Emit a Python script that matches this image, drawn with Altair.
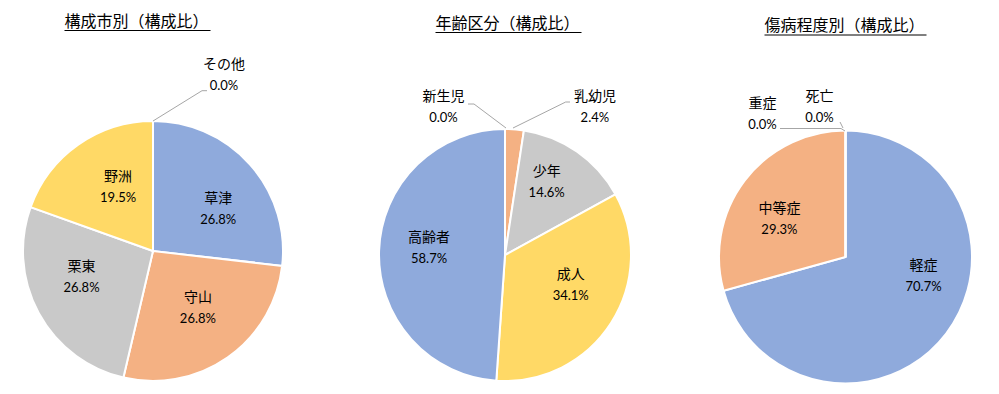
import altair as alt
import pandas as pd

# ---- data ----
city_cats = ["草津", "守山", "栗東", "野洲", "その他"]
city_vals = [26.8, 26.8, 26.8, 19.5, 0.0]
city_lbls = ["26.8%", "26.8%", "26.8%", "19.5%", "0.0%"]

age_cats = ["新生児", "乳幼児", "少年", "成人", "高齢者"]
age_vals = [0.0, 2.4, 14.6, 34.1, 48.9]          # drawn slice sizes
age_lbls = ["0.0%", "2.4%", "14.6%", "34.1%", "58.7%"]  # printed labels

sev_cats = ["軽症", "中等症", "重症", "死亡"]
sev_vals = [70.7, 29.3, 0.0, 0.0]
sev_lbls = ["70.7%", "29.3%", "0.0%", "0.0%"]

titles = ["構成市別（構成比）", "年齢区分（構成比）", "傷病程度別（構成比）"]

BLUE, ORANGE, GRAY, YELLOW = "#8FAADC", "#F4B183", "#C9C9C9", "#FFD966"
LEADER = "#A6A6A6"
CJK = "Noto Sans CJK JP"
NUM = "Lato"
H = 378
LR = 78  # label radius

TITLE_SHIFT = {titles[0]: 128.5 - 163.5, titles[1]: 172.5 - 164, titles[2]: 181.5 - 164}


def pie(cats, vals, lbls, colors, width, cx, cy, r, title, ty, corr, leaders):
    df = pd.DataFrame({"cat": cats, "val": vals, "lbl": lbls, "idx": list(range(len(cats)))})
    base = alt.Chart(df)
    theta = alt.Theta("val:Q", stack=True)
    order = alt.Order("idx:Q")
    arc = base.mark_arc(radius=r, stroke="white", strokeWidth=2).encode(
        theta=theta, order=order,
        x=alt.value(cx), y=alt.value(cy),
        color=alt.Color("cat:N", scale=alt.Scale(domain=cats, range=colors), legend=None),
    )
    layers = [arc]
    for c in cats:
        dx, dy = corr[c]
        for field, off, font, size in (("cat", -10.5, CJK, 14), ("lbl", 10.5, NUM, 13)):
            layers.append(
                base.mark_text(radius=LR, dx=dx, dy=dy + off, font=font, fontSize=size,
                               color="#000000", align="center", baseline="middle").encode(
                    theta=theta, order=order,
                    x=alt.value(cx), y=alt.value(cy),
                    text=alt.condition(alt.datum.cat == c, alt.Text(f"{field}:N"), alt.value("")),
                )
            )
    # title + underline
    tdf = pd.DataFrame({"t": [title]})
    tx = width / 2 + TITLE_SHIFT[title]
    layers.append(alt.Chart(tdf).mark_text(font=CJK, fontSize=16, color="#000000",
                                           align="center", baseline="middle").encode(
        text="t:N", x=alt.value(tx), y=alt.value(ty)))
    half = len(title) * 16 / 2
    layers.append(alt.Chart(tdf).mark_rule(color="#000000", strokeWidth=1).encode(
        x=alt.value(tx - half), x2=alt.value(tx + half + 2), y=alt.value(ty + 9), y2=alt.value(ty + 9)))
    # leader lines
    for (x1, y1, x2, y2) in leaders:
        layers.append(alt.Chart(tdf).mark_rule(color=LEADER, strokeWidth=1).encode(
            x=alt.value(x1), y=alt.value(y1), x2=alt.value(x2), y2=alt.value(y2)))
    return alt.layer(*layers).properties(width=width, height=H)


c1x, c1y, r1 = 145, 243, 130
p1 = pie(city_cats, city_vals, city_lbls, [BLUE, ORANGE, GRAY, YELLOW, BLUE], 327,
         c1x, c1y, r1, titles[0], 13.5,
         {"草津": (7, 10), "守山": (0, -6), "栗東": (-3, -11), "野洲": (10, 0), "その他": (71, -98)},
         [(c1x, c1y - r1, 194, 82.7), (194, 82.7, 199, 82.7)])

c2x, c2y, r2 = 170, 247, 126
p2 = pie(age_cats, age_vals, age_lbls, [BLUE, ORANGE, GRAY, YELLOW, BLUE], 328,
         c2x, c2y, r2, titles[1], 15.5,
         {"新生児": (-61.5, -70), "乳幼児": (84, -70), "少年": (-3, -9), "成人": (0, -12), "高齢者": (2, -4)},
         [(c2x + 1, c2y - r2 - 1, 139, 96), (139, 96, 133, 96),
          (c2x + 8, c2y - r2 - 1, 230.7, 94), (230.7, 94, 235, 94)])

c3x, c3y, r3 = 182.5, 249, 126.5
p3 = pie(sev_cats, sev_vals, sev_lbls, [BLUE, ORANGE, GRAY, YELLOW], 328,
         c3x, c3y, r3, titles[2], 18,
         {"軽症": (16, -28), "中等症": (-4, 10), "重症": (-83, -65), "死亡": (-26, -71.5)},
         [(117, 120.5, 178, 120.5), (178, 120.5, 182, 123), (177, 114, 180, 120)])

chart = alt.hconcat(p1, p2, p3, spacing=0).resolve_scale(
    color="independent", theta="independent"
).properties(padding=0).configure_view(stroke=None)

chart.save("out.html", embed_options={"renderer": "svg", "actions": False})
